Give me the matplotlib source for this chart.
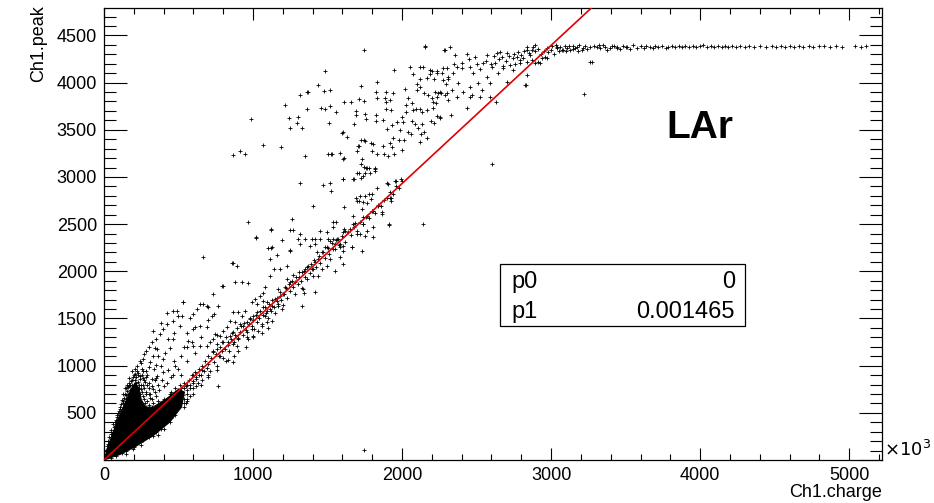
import numpy as np
import matplotlib
matplotlib.use("Agg")
import matplotlib.pyplot as plt
from matplotlib.ticker import MultipleLocator, FuncFormatter
from matplotlib.patches import Rectangle

plt.rcParams['font.family'] = ['Liberation Sans', 'DejaVu Sans']

# fit parameters (stats box)
p0 = 0.0
p1 = 0.001465

# saturated black wedge near the origin (outline of the dense core)
core_x = [0, 40, 90, 140, 185, 210, 235, 250, 280, 330, 420, 500, 540, 520, 440, 340, 220, 110, 0]
core_y = [0, 200, 420, 600, 760, 820, 760, 640, 560, 560, 650, 750, 720, 560, 400, 270, 150, 60, 0]

# points along the edges of the dense core
edge_pts = [(20, 150), (30, 200), (45, 280), (60, 380), (80, 420), (90, 480), (100, 520), (110, 560),
            (130, 600), (150, 650), (160, 700), (175, 740), (190, 800), (205, 850), (215, 880), (230, 920),
            (120, 640), (140, 700), (170, 780), (180, 840), (200, 900), (210, 960), (225, 1000), (240, 1050),
            (150, 760), (165, 820), (195, 700), (235, 760), (255, 720), (265, 680),
            (15, 110), (25, 170), (35, 240), (50, 320), (65, 350), (75, 400), (85, 460), (95, 500), (105, 540),
            (115, 590), (125, 620), (135, 660), (145, 690), (155, 730), (160, 770), (175, 800), (185, 850),
            (195, 880), (205, 910), (190, 940), (220, 940), (170, 870), (155, 800), (140, 760), (130, 700),
            (50, 20), (80, 40), (120, 70), (150, 100), (170, 130), (200, 140), (230, 190), (260, 210),
            (300, 240), (320, 290), (350, 300), (380, 330), (400, 380), (420, 420), (450, 450), (470, 520),
            (500, 560), (520, 600), (540, 650), (560, 700), (150, 60), (250, 160), (330, 250), (360, 260),
            (440, 400), (480, 480), (400, 330), (540, 600), (580, 680),
            (200, 620), (210, 700), (220, 760), (235, 800), (245, 860), (255, 900), (265, 940), (240, 700),
            (250, 750), (260, 800), (270, 850), (280, 880), (290, 800), (300, 760), (280, 720), (270, 650),
            (290, 620), (310, 700), (320, 650), (330, 600), (340, 720), (350, 680), (360, 620), (300, 580),
            (285, 560), (230, 620), (215, 590), (205, 560), (275, 600), (325, 560),
            (380, 560), (400, 650), (440, 700), (470, 640), (500, 740), (540, 760), (560, 800), (520, 680),
            (580, 760), (600, 900), (620, 860), (640, 900), (560, 620), (600, 820), (660, 950), (540, 560),
            (480, 560), (550, 600), (600, 700), (650, 800), (620, 780), (700, 900), (560, 650)]

# upper arm of the low-charge population
arm_pts = [(242, 889), (262, 1069), (275, 825), (309, 1037), (322, 857), (329, 1100), (356, 1174), (356, 889),
           (362, 1100), (376, 1333), (396, 1386), (396, 1069), (396, 931), (423, 1439), (430, 1280), (463, 1471),
           (463, 1280), (490, 1576), (497, 1524), (530, 1672), (611, 1407), (644, 1206), (664, 1650), (691, 1407),
           (698, 1619), (799, 1841), (859, 2084), (866, 2084), (892, 2053), (664, 2148), (792, 1841), (879, 1883),
           (926, 1883), (966, 1873), (644, 1650), (691, 1629), (731, 1756), (765, 1629), (624, 1597),
           (255, 960), (230, 900), (250, 1030), (285, 1150), (300, 1200), (270, 1120), (320, 1250), (340, 1190),
           (300, 990), (280, 940), (215, 820), (200, 780), (230, 830), (260, 870), (290, 900), (335, 960),
           (350, 1010), (380, 1000), (410, 1130), (440, 1190), (470, 1350), (350, 1280), (330, 1370), (380, 1450),
           (420, 1560), (460, 1580), (510, 1420), (560, 1350), (580, 1500), (600, 1550), (540, 1200), (590, 1250),
           (470, 1050), (520, 1100), (560, 1050), (610, 1130), (650, 1300), (700, 1480), (740, 1550), (760, 1330),
           (250, 790), (270, 760), (300, 820), (320, 780), (340, 850),
           (300, 700), (330, 750), (360, 800), (390, 850), (420, 820), (450, 880), (310, 660), (280, 700),
           (370, 740), (400, 780), (350, 870), (430, 950), (460, 900), (480, 1000), (500, 960), (520, 900)]

# main band following the fit line
band_pts = [(450, 720), (470, 650), (480, 760), (500, 700), (510, 800), (520, 760), (530, 690), (540, 820),
            (550, 780), (560, 740), (570, 850), (580, 800), (590, 900), (600, 840), (600, 760), (610, 930),
            (620, 880), (630, 820), (640, 960), (650, 900), (660, 1000), (660, 850), (670, 940), (680, 1050),
            (690, 980), (700, 1020), (700, 1100), (710, 940), (720, 1080), (730, 1150), (740, 1040), (750, 1120),
            (760, 1180), (760, 1000), (770, 1100), (780, 1200), (790, 1150), (800, 1250), (800, 1080), (810, 1180),
            (820, 1300), (830, 1220), (840, 1150), (850, 1280), (860, 1350), (870, 1250), (880, 1320), (890, 1400),
            (900, 1290), (910, 1360), (920, 1420), (930, 1330), (940, 1450), (950, 1380), (960, 1300), (970, 1440),
            (980, 1500), (990, 1420), (1000, 1480), (1010, 1390), (1020, 1540), (1030, 1460), (1040, 1500),
            (1050, 1580), (1060, 1440), (1070, 1540), (1080, 1620), (1090, 1560), (1100, 1500), (1110, 1650),
            (1120, 1580), (1130, 1700), (1140, 1620), (1150, 1560), (1160, 1720), (1170, 1650), (1180, 1780),
            (1190, 1700), (1200, 1640), (1210, 1760), (1220, 1820), (1230, 1720), (1240, 1860), (1250, 1790),
            (1260, 1900), (1270, 1830), (1280, 1760), (1290, 1940), (1300, 1860), (1310, 1990), (1320, 1900),
            (1330, 1820), (1340, 2000), (1350, 1940), (1360, 2050), (1380, 1980), (1390, 2080), (1400, 2020),
            (1410, 2120), (1420, 2050), (1440, 2160), (1450, 2090), (1460, 2200), (1480, 2140), (1500, 2250),
            (1510, 2180), (1530, 2300), (1550, 2240), (1560, 2330), (1580, 2280), (1600, 2370), (1620, 2310),
            (1640, 2420), (1660, 2380), (1680, 2470), (1700, 2430), (1720, 2520), (1740, 2500), (1760, 2580),
            (1780, 2560), (1800, 2640), (1820, 2620), (1840, 2700), (1860, 2690), (1880, 2760), (1900, 2780),
            (1920, 2840), (1940, 2820), (1960, 2900), (1980, 2880), (2000, 2960),
            (700, 880), (760, 950), (820, 1050), (870, 1100), (900, 1150), (950, 1200), (1000, 1300), (1060, 1350),
            (1100, 1400), (731, 1143), (780, 1100), (830, 1060), (866, 1037),
            (530, 1672), (523, 1524), (564, 1259), (597, 1386), (597, 1206), (557, 1196), (644, 1418), (725, 1524),
            (711, 1248), (691, 1206), (731, 1280), (745, 1333), (758, 1227), (778, 1312), (792, 1248), (799, 1365),
            (825, 1407), (832, 1248), (845, 1312), (845, 1471), (866, 1354), (866, 1227), (866, 1566), (879, 1460),
            (892, 1206), (899, 1280), (899, 1566), (912, 1439), (926, 1524), (933, 1418), (946, 1576), (960, 1354),
            (960, 1460), (966, 1280), (980, 1492), (993, 1386), (993, 1672), (1000, 1312), (1000, 1524),
            (1013, 1703), (1027, 1566), (1027, 1650), (1033, 1365), (1047, 1735), (1060, 1418), (1067, 1619),
            (1067, 1682), (1067, 1767), (1080, 1524), (1080, 1830), (1094, 1460), (1094, 1576), (1094, 1672),
            (1114, 1598), (1114, 1947), (1114, 2127), (1127, 1471), (1127, 1629), (1141, 2021), (1147, 1703),
            (1161, 1682), (1161, 2169), (1168, 1629), (1168, 1809), (1181, 1735), (1181, 2021), (1194, 1598),
            (1201, 1756), (1214, 1830), (1228, 1915), (1228, 2053), (1248, 1883), (1248, 2222), (1268, 1957),
            (1281, 1883), (1308, 1936), (1329, 1629), (1329, 1989), (1335, 1809), (1342, 1767), (1349, 2021),
            (1362, 1915), (1369, 2053), (1396, 2021), (1402, 1947), (1416, 1777), (1416, 2095), (1436, 1947),
            (1436, 2127), (1463, 2021), (1470, 2201), (1496, 2053), (1496, 2254), (1496, 2412), (1516, 2127),
            (1516, 2317), (1537, 2232), (1537, 2518), (1550, 2000), (1550, 2285), (1564, 2338), (1584, 2148),
            (1584, 2285), (1604, 2074), (1604, 2264), (1617, 2423), (1664, 2254), (1671, 2497), (1698, 2391),
            (1731, 2211), (1738, 2497), (1765, 2423), (1765, 2582), (1798, 2634), (1805, 2465), (1805, 2359),
            (1698, 2740), (1738, 2730), (1731, 2656), (1798, 2814), (1838, 2687), (1865, 2624), (1919, 2782),
            (1906, 2920), (1953, 2952), (1912, 2497), (1449, 2423)]

# sparse population above the band
cloud_pts = [(866, 3237), (912, 3280), (946, 3248), (986, 3618), (966, 2518), (1020, 2349), (1020, 2359),
             (1067, 3343), (1100, 2243), (1120, 2243), (1120, 2433), (1120, 2444), (1127, 2254), (1188, 3322),
             (1194, 2328), (1215, 3766), (1241, 3629), (1248, 3523), (1248, 2433), (1248, 2211), (1261, 2550),
             (1268, 2433), (1295, 3576), (1302, 3640), (1302, 2338), (1315, 3872), (1315, 2941), (1315, 2391),
             (1315, 2285), (1329, 3523), (1349, 3227), (1362, 3904), (1362, 3724), (1369, 3904), (1382, 2264),
             (1349, 2338), (1396, 2338), (1402, 2687), (1416, 2285), (1416, 2338), (1429, 2201), (1436, 3978),
             (1449, 2338), (1456, 3735), (1470, 2910), (1476, 3914), (1483, 4126), (1483, 3724), (1483, 2254),
             (1503, 3248), (1503, 2338), (1510, 3576), (1516, 3925), (1516, 3756), (1516, 2931), (1523, 2846),
             (1523, 3248), (1530, 3248), (1537, 2465), (1537, 2338), (1557, 3692), (1557, 2518), (1570, 2338),
             (1584, 3259), (1584, 2254), (1597, 3470), (1604, 3481), (1604, 2973), (1604, 3195), (1604, 2983),
             (1604, 2412), (1604, 2211), (1610, 3206), (1610, 3798), (1610, 2677), (1610, 2444), (1631, 3428),
             (1651, 2444), (1657, 3798), (1664, 2254), (1671, 2983), (1671, 2582), (1678, 3565), (1678, 2983),
             (1684, 2508), (1691, 3703), (1691, 3661), (1691, 2782), (1698, 3280), (1698, 3047), (1704, 3333),
             (1711, 3830), (1711, 3333), (1711, 3047), (1711, 2740), (1718, 2793), (1718, 2391), (1724, 3968),
             (1724, 3396), (1724, 3132), (1724, 2994), (1731, 3195), (1738, 3005), (1738, 2571), (1745, 4348),
             (1745, 3809), (1745, 3396), (1745, 3110), (1751, 3671), (1751, 3386), (1751, 3047), (1751, 2793),
             (1751, 2370), (1758, 3618), (1758, 3100), (1765, 3100), (1765, 2719), (1778, 3100), (1778, 2814),
             (1785, 3047), (1792, 3364), (1792, 2761), (1798, 3280), (1805, 3354), (1805, 2634), (1818, 3100),
             (1818, 3079), (1818, 3058), (1825, 3661), (1825, 3597), (1825, 3904), (1832, 4010), (1832, 3840),
             (1832, 3248), (1832, 2888), (1865, 2603), (1872, 3608), (1872, 3333), (1879, 3248), (1885, 3840),
             (1892, 3904), (1892, 3798), (1892, 3724), (1899, 3513), (1899, 2941), (1906, 3227), (1912, 2486),
             (1919, 3819), (1919, 3364), (1926, 3714), (1926, 2782), (1926, 2740), (1932, 3555), (1932, 3322),
             (1939, 3893), (1939, 3417), (1946, 4137), (1946, 3248), (1959, 2952), (1966, 3587), (1979, 3396),
             (1986, 3502), (1993, 2973), (2000, 3640), (2000, 3290), (2006, 3587), (2013, 3396), (2020, 3936),
             (2026, 3692), (2026, 3766), (2040, 3840), (2040, 3481), (2053, 4168), (2060, 3460), (2067, 3787),
             (2067, 3597), (2073, 4094), (2073, 3714), (2087, 3565), (2093, 3724), (2100, 3925), (2100, 3989),
             (2107, 3523), (2120, 4168), (2120, 4041), (2120, 3957), (2120, 3724), (2120, 3375), (2127, 3460),
             (2134, 3565), (2134, 3692), (2140, 4168), (2147, 3893), (2147, 3481), (2154, 4380), (2154, 4390),
             (2167, 4052), (2167, 3714), (2167, 3417), (2174, 3872), (2187, 4094), (2187, 4137), (2194, 3597),
             (2201, 4126), (2201, 3840), (2208, 3798), (2208, 3735), (2214, 4041), (2214, 3576), (2221, 3904),
             (2228, 3787), (2234, 4126), (2234, 3650), (2234, 4105), (2234, 3851), (2241, 3893), (2254, 3640),
             (2254, 3904), (2254, 3629), (2261, 3893), (2268, 4105), (2275, 4158), (2275, 4031), (2281, 4348),
             (2288, 3872), (2288, 4348), (2295, 3989), (2301, 3893), (2308, 3819), (2308, 4041), (2308, 4063),
             (2321, 4380), (2328, 3661), (2335, 3925), (2342, 4105), (2355, 4295), (2369, 4168), (2369, 3851),
             (2375, 4000), (2402, 4211), (2409, 3904), (2435, 4306), (2436, 3735), (2456, 4168), (2456, 3957),
             (2456, 3851), (2469, 3872), (2476, 4105), (2489, 4274), (2510, 4000), (2523, 4147), (2523, 3851),
             (2536, 3925), (2543, 4211), (2570, 4295), (2570, 4063), (2590, 4000), (2590, 3851), (2603, 4168),
             (2624, 4211), (2630, 3798), (2637, 4317), (2644, 4105), (2657, 4327), (2670, 4274), (2677, 4158),
             (2704, 4317), (2704, 4010), (2724, 4190), (2744, 4137), (2744, 4264), (2771, 4274), (2791, 4243),
             (2791, 4211), (2811, 4264), (2825, 3978), (2832, 3978), (2838, 4380), (2838, 4221), (2838, 4084),
             (2838, 4348), (2858, 4295), (2872, 4243), (2878, 4380), (2892, 4401), (2892, 4211), (2912, 4221),
             (2925, 4211), (2939, 4264), (2959, 4274), (2972, 4369), (2972, 4264),
             (2600, 4200), (2650, 4250), (2700, 4230), (2720, 4280), (2750, 4300), (2780, 4320), (2800, 4290),
             (2820, 4330), (2850, 4310), (2870, 4350), (2890, 4330), (2910, 4360), (2930, 4300), (2950, 4340),
             (2980, 4320), (3000, 4350), (3020, 4300), (3050, 4330), (3100, 4340), (3150, 4360), (3180, 4340),
             (2760, 4200), (2680, 4180), (2620, 4280), (2560, 4230), (2500, 4200), (2400, 4150), (2450, 4250),
             (2350, 4200), (2300, 4150)]

# saturation plateau
plateau_pts = [(3006, 4390), (3040, 4369), (3040, 4380), (3073, 4348), (3080, 4348), (3107, 4369), (3127, 4348),
               (3147, 4390), (3174, 4380), (3207, 4348), (3214, 4369), (3241, 4359), (3261, 4221), (3274, 4221),
               (3308, 4380), (3328, 4369), (3350, 4395), (3375, 4348), (3395, 4369), (3420, 4385), (3442, 4369),
               (3442, 4380), (3465, 4360), (3480, 4390), (3500, 4372), (3509, 4380), (3530, 4360), (3550, 4395),
               (3576, 4369), (3600, 4385), (3620, 4365), (3640, 4392), (3663, 4380), (3685, 4370), (3700, 4390),
               (3720, 4375), (3745, 4385), (3770, 4370), (3784, 4380), (3810, 4392), (3830, 4378), (3855, 4386),
               (3875, 4372), (3900, 4390), (3925, 4380), (3950, 4388), (3975, 4374), (4000, 4384), (4020, 4395),
               (4045, 4378), (4070, 4388), (4095, 4380), (4120, 4392), (4145, 4376), (4170, 4386), (4190, 4378),
               (4215, 4390), (4240, 4382), (4270, 4386), (4300, 4380), (4330, 4384), (4360, 4378), (4400, 4386),
               (4440, 4382), (4480, 4384), (4510, 4380), (4540, 4386), (4570, 4380), (4600, 4384), (4630, 4382),
               (4660, 4386), (4690, 4380), (4730, 4384), (4760, 4382), (4800, 4386), (4830, 4384), (4870, 4382),
               (4910, 4384), (4950, 4382), (5040, 4384), (5080, 4382), (5110, 4384),
               (3030, 4395), (3060, 4375), (3090, 4390), (3120, 4385), (3160, 4370), (3190, 4395), (3230, 4385),
               (3260, 4375), (3290, 4390), (3320, 4395), (3360, 4375), (3410, 4390)]

# isolated outliers
odd_pts = [(1745, 106), (2603, 3132), (3221, 3883), (2140, 2497), (195, 116), (765, 783)]

fig = plt.figure(figsize=(9.34, 5.03), dpi=100)
ax = fig.add_axes([0.1113, 0.0855, 0.8330, 0.8985])

ax.fill(core_x, core_y, color='black', lw=0.8, zorder=2)
for pts in [edge_pts, arm_pts, band_pts, cloud_pts, plateau_pts, odd_pts]:
    arr = np.array(pts, dtype=float)
    ax.plot(arr[:, 0], arr[:, 1], ls='none', marker='+', ms=3, mew=0.6, color='black', zorder=3)

xf = np.array([0.0, 5220.0])
ax.plot(xf, p0 + p1 * xf * 1000, color='#e00000', lw=1.2, zorder=4)

ax.set_xlim(0, 5220)
ax.set_ylim(0, 4790)

ax.xaxis.set_major_locator(MultipleLocator(1000))
ax.xaxis.set_minor_locator(MultipleLocator(200))
ax.yaxis.set_major_locator(MultipleLocator(500))
ax.yaxis.set_minor_locator(MultipleLocator(100))
ax.yaxis.set_major_formatter(FuncFormatter(lambda v, p: '' if v == 0 else '%d' % v))

ax.tick_params(which='both', direction='in', top=True, right=True, labelsize=13, width=0.8)
ax.tick_params(axis='x', which='major', length=8.6, pad=5)
ax.tick_params(axis='x', which='minor', length=4.3)
ax.tick_params(axis='y', which='major', length=16.5, pad=5)
ax.tick_params(axis='y', which='minor', length=8.6)
for s in ax.spines.values():
    s.set_linewidth(0.9)

ax.text(1.003, 0.0, r'$\times10^{3}$', transform=ax.transAxes, fontsize=13, ha='left', va='bottom',
        math_fontfamily='dejavusans')
fig.text(0.944, 0.004, 'Ch1.charge', ha='right', va='bottom', fontsize=13)
fig.text(0.041, 0.99, 'Ch1.peak', ha='center', va='top', rotation=90, fontsize=13)

ax.text(0.766, 0.735, 'LAr', transform=ax.transAxes, ha='center', va='center', fontsize=28, fontweight='bold')

ax.add_patch(Rectangle((0.509, 0.296), 0.315, 0.138, transform=ax.transAxes, fill=True,
                       facecolor='white', edgecolor='black', lw=0.9, zorder=5))
ax.text(0.524, 0.394, 'p0', transform=ax.transAxes, fontsize=17, va='center', ha='left', zorder=6)
ax.text(0.524, 0.327, 'p1', transform=ax.transAxes, fontsize=17, va='center', ha='left', zorder=6)
ax.text(0.811, 0.394, '%g' % p0, transform=ax.transAxes, fontsize=17, va='center', ha='right', zorder=6)
ax.text(0.811, 0.327, '%.6f' % p1, transform=ax.transAxes, fontsize=17, va='center', ha='right', zorder=6)

fig.savefig('out.png', dpi=100)
